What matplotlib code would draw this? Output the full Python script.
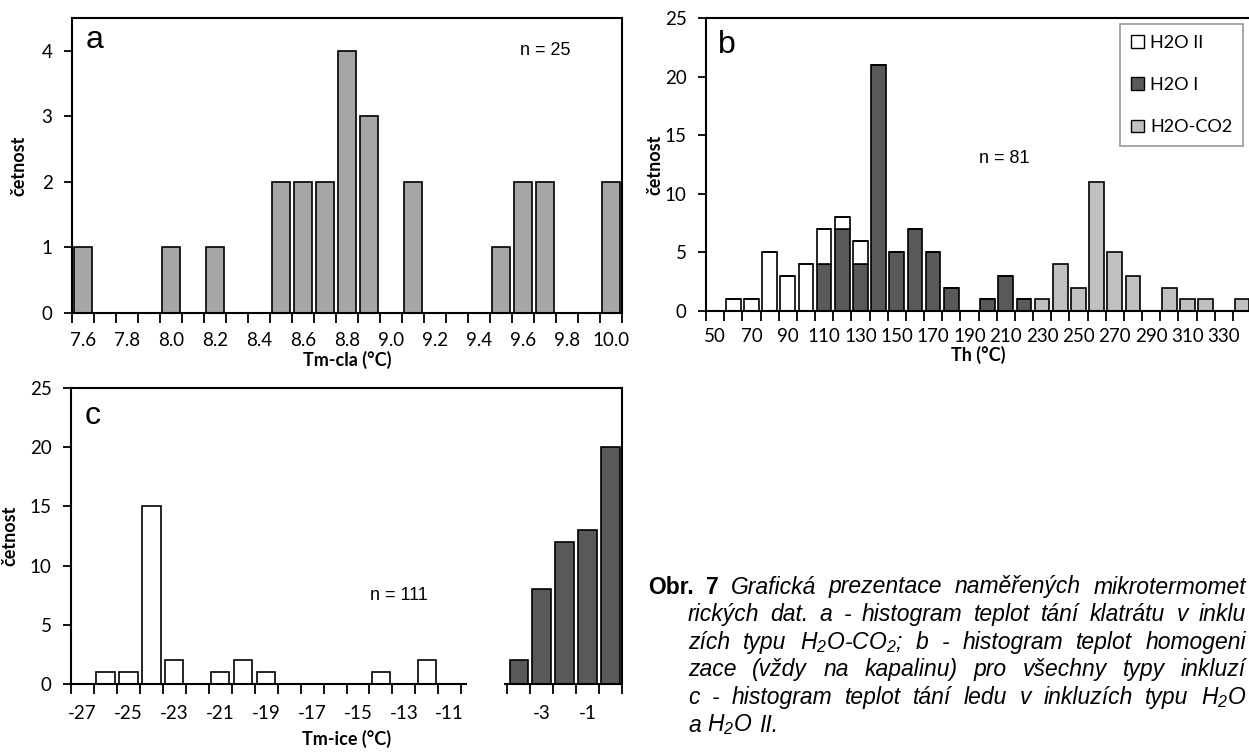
import matplotlib
matplotlib.use("Agg")
import numpy as np
import matplotlib.pyplot as plt
from matplotlib.patches import Patch

plt.rcParams['font.family'] = ['Lato', 'DejaVu Sans']
plt.rcParams['mathtext.fontset'] = 'custom'
plt.rcParams['mathtext.rm'] = 'Liberation Sans:italic'
plt.rcParams['mathtext.it'] = 'Liberation Sans:italic'

# --- a: Tm-cla ---
tm_cla = [7.6, 7.7, 7.8, 7.9, 8.0, 8.1, 8.2, 8.3, 8.4, 8.5, 8.6, 8.7, 8.8,
          8.9, 9.0, 9.1, 9.2, 9.3, 9.4, 9.5, 9.6, 9.7, 9.8, 9.9, 10.0]
count_a = [1, 0, 0, 0, 1, 0, 1, 0, 0, 2, 2, 2, 4,
           3, 0, 2, 0, 0, 0, 1, 2, 2, 0, 0, 2]

# --- b: Th ---
th = [50, 60, 70, 80, 90, 100, 110, 120, 130, 140, 150, 160, 170, 180, 190,
      200, 210, 220, 230, 240, 250, 260, 270, 280, 290, 300, 310, 320, 330, 340]
h2o_ii = [0, 1, 1, 5, 3, 4, 3, 1, 2, 0, 0, 0, 0, 0, 0,
          0, 0, 0, 0, 0, 0, 0, 0, 0, 0, 0, 0, 0, 0, 0]
h2o_i = [0, 0, 0, 0, 0, 0, 4, 7, 4, 21, 5, 7, 5, 2, 0,
         1, 3, 1, 0, 0, 0, 0, 0, 0, 0, 0, 0, 0, 0, 0]
h2o_co2 = [0, 0, 0, 0, 0, 0, 0, 0, 0, 0, 0, 0, 0, 0, 0,
           0, 0, 0, 1, 4, 2, 11, 5, 3, 0, 2, 1, 1, 0, 1]

# --- c: Tm-ice (broken axis) ---
ice_left = [-27, -26, -25, -24, -23, -22, -21, -20, -19, -18, -17, -16, -15, -14, -13, -12, -11]
count_left = [0, 1, 1, 15, 2, 0, 1, 2, 1, 0, 0, 0, 0, 1, 0, 2, 0]
ice_right = [-4, -3, -2, -1, 0]
count_right = [2, 8, 12, 13, 20]
gap_bins = 2

c_white = 'white'
c_dark = '#595959'
c_light = '#c0c0c0'
c_gray = '#a6a6a6'

fig = plt.figure(figsize=(12.49, 7.54), dpi=100)
W, H = 1249, 754


def box(l, t, r, b):
    return [l / W, 1 - b / H, (r - l) / W, (b - t) / H]


def base_style(ax, n):
    for s in ax.spines.values():
        s.set_linewidth(1.5)
    ax.set_xlim(-0.5, n - 0.5)
    ax.tick_params(axis='y', direction='out', length=6, width=1.3, pad=8, labelsize=13.5)
    ax.tick_params(axis='x', which='major', length=0, pad=14, labelsize=13.5)
    ax.tick_params(axis='x', which='minor', direction='out', length=7, width=1.3)


bar_kw = dict(width=0.8, edgecolor='black', linewidth=1.2)

# panel a
ax_a = fig.add_axes(box(72, 18, 622, 313))
pos_a = np.arange(len(tm_cla))
ax_a.bar(pos_a, count_a, color=c_gray, **bar_kw)
base_style(ax_a, len(tm_cla))
ax_a.set_ylim(0, 4.5)
ax_a.set_yticks([0, 1, 2, 3, 4])
ax_a.set_xticks(pos_a[::2])
ax_a.set_xticklabels([f"{v:.1f}" for v in tm_cla[::2]])
ax_a.set_xticks(np.arange(len(tm_cla) + 1) - 0.5, minor=True)
ax_a.set_xlabel("Tm-cla (°C)", fontsize=13, fontweight='bold', labelpad=1)
ax_a.set_ylabel("četnost", fontsize=13, fontweight='bold', labelpad=10)
ax_a.text(0.025, 0.9, "a", transform=ax_a.transAxes, fontsize=23,
          family='Liberation Sans', va='baseline')
ax_a.text(21.0, 4.0, "n = 25", fontsize=13, family='Liberation Sans', ha='center', va='center')

# panel b
ax_b = fig.add_axes(box(706, 18, 1251, 311))
pos_b = np.arange(len(th))
ax_b.bar(pos_b, h2o_i, color=c_dark, label="H2O I", **bar_kw)
ax_b.bar(pos_b, h2o_ii, bottom=h2o_i, color=c_white, label="H2O II", **bar_kw)
bot = [a + b for a, b in zip(h2o_i, h2o_ii)]
ax_b.bar(pos_b, h2o_co2, bottom=bot, color=c_light, label="H2O-CO2", **bar_kw)
base_style(ax_b, len(th))
ax_b.set_ylim(0, 25)
ax_b.set_yticks([0, 5, 10, 15, 20, 25])
ax_b.set_xticks(pos_b[::2])
ax_b.set_xticklabels([str(v) for v in th[::2]])
ax_b.set_xticks(np.arange(len(th) + 1) - 0.5, minor=True)
ax_b.tick_params(axis='x', which='major', pad=12)
ax_b.set_xlabel("Th (°C)", fontsize=13, fontweight='bold', labelpad=1)
ax_b.set_ylabel("četnost", fontsize=13, fontweight='bold', labelpad=1)
ax_b.text(0.022, 0.88, "b", transform=ax_b.transAxes, fontsize=23,
          family='Liberation Sans', va='baseline')
ax_b.text(15.9, 13.0, "n = 81", fontsize=13, family='Liberation Sans', ha='center', va='center')
handles = [Patch(facecolor=c_white, edgecolor='black', label="H2O II"),
           Patch(facecolor=c_dark, edgecolor='black', label="H2O I"),
           Patch(facecolor=c_light, edgecolor='black', label="H2O-CO2")]
leg = ax_b.legend(handles=handles, loc='upper right',
                  bbox_to_anchor=(1243 / W, 1 - 24 / H), bbox_transform=fig.transFigure,
                  borderaxespad=0, fontsize=13, handlelength=0.7, handleheight=0.7,
                  handletextpad=0.35, labelspacing=1.45, borderpad=0.6,
                  fancybox=False, frameon=True)
leg.get_frame().set_edgecolor('#7f7f7f')
leg.get_frame().set_linewidth(1.2)

# panel c
ax_c = fig.add_axes(box(71, 388, 622, 684))
n_c = len(ice_left) + gap_bins + len(ice_right)
pos_left = np.arange(len(ice_left))
pos_right = np.arange(len(ice_right)) + len(ice_left) + gap_bins
ax_c.bar(pos_left, count_left, color=c_white, **bar_kw)
ax_c.bar(pos_right, count_right, color=c_dark, **bar_kw)
base_style(ax_c, n_c)
ax_c.spines['bottom'].set_visible(False)
ax_c.set_ylim(0, 25)
ax_c.set_yticks([0, 5, 10, 15, 20, 25])
tick_pos = list(pos_left[::2]) + list(pos_right[1::2])
tick_lab = [str(v) for v in ice_left[::2]] + [str(v) for v in ice_right[1::2]]
ax_c.set_xticks(tick_pos)
ax_c.set_xticklabels(tick_lab)
minor = list(np.arange(len(ice_left) + 1) - 0.5) + list(np.arange(len(ice_right) + 1) - 0.5 + pos_right[0])
ax_c.set_xticks(minor, minor=True)
ax_c.tick_params(axis='x', which='major', pad=15)
ax_c.hlines(0, -0.5, len(ice_left) - 0.25, color='black', lw=1.5, clip_on=False)
ax_c.hlines(0, pos_right[0] - 0.65, pos_right[-1] + 0.5, color='black', lw=1.5, clip_on=False)
ax_c.set_xlabel("Tm-ice (°C)", fontsize=13, fontweight='bold', labelpad=6)
ax_c.set_ylabel("četnost", fontsize=13, fontweight='bold', labelpad=8)
ax_c.text(0.025, 0.88, "c", transform=ax_c.transAxes, fontsize=23,
          family='Liberation Sans', va='baseline')
ax_c.text(13.8, 7.5, "n = 111", fontsize=13, family='Liberation Sans', ha='center', va='center')

# caption (justified lines)
cap_lines = [
    [("Obr.", 'bold', 'normal'), ("7", 'bold', 'normal')] +
    [(w, 'normal', 'italic') for w in "Grafická prezentace naměřených mikrotermomet".split()],
    [(w, 'normal', 'italic') for w in "rických dat. a - histogram teplot tání klatrátu v inklu".split()],
    [(w, 'normal', 'italic') for w in "zích typu H$_2$O-CO$_2$; b - histogram teplot homogeni".split()],
    [(w, 'normal', 'italic') for w in "zace (vždy na kapalinu) pro všechny typy inkluzí".split()],
    [(w, 'normal', 'italic') for w in "c - histogram teplot tání ledu v inkluzích typu H$_2$O".split()],
    [(w, 'normal', 'italic') for w in "a H$_2$O II.".split()],
]
cap_size = 16.5
x_starts = [648, 688, 688, 688, 688, 688]
right_edge = 1246
line_y = 587
renderer = fig.canvas.get_renderer()
t1 = fig.text(0, 0, "a b", fontsize=cap_size, family='Liberation Sans', style='italic')
t2 = fig.text(0, 0, "ab", fontsize=cap_size, family='Liberation Sans', style='italic')
sp = t1.get_window_extent(renderer).width - t2.get_window_extent(renderer).width
t1.remove()
t2.remove()
for i, words in enumerate(cap_lines):
    y = 1 - (line_y + i * 27.6) / H
    objs = []
    for w, fw, st in words:
        t = fig.text(0, y, w, fontsize=cap_size, family='Liberation Sans',
                     fontweight=fw, style=st, va='center')
        objs.append(t)
    widths = [t.get_window_extent(renderer).width for t in objs]
    if i < len(cap_lines) - 1:
        gap = (right_edge - x_starts[i] - sum(widths)) / (len(objs) - 1)
        gap = max(gap, sp * 0.8)
    else:
        gap = sp
    x = x_starts[i]
    for t, wd in zip(objs, widths):
        t.set_x(x / W)
        x += wd + gap

fig.savefig("out.png", dpi=100, facecolor='white')
